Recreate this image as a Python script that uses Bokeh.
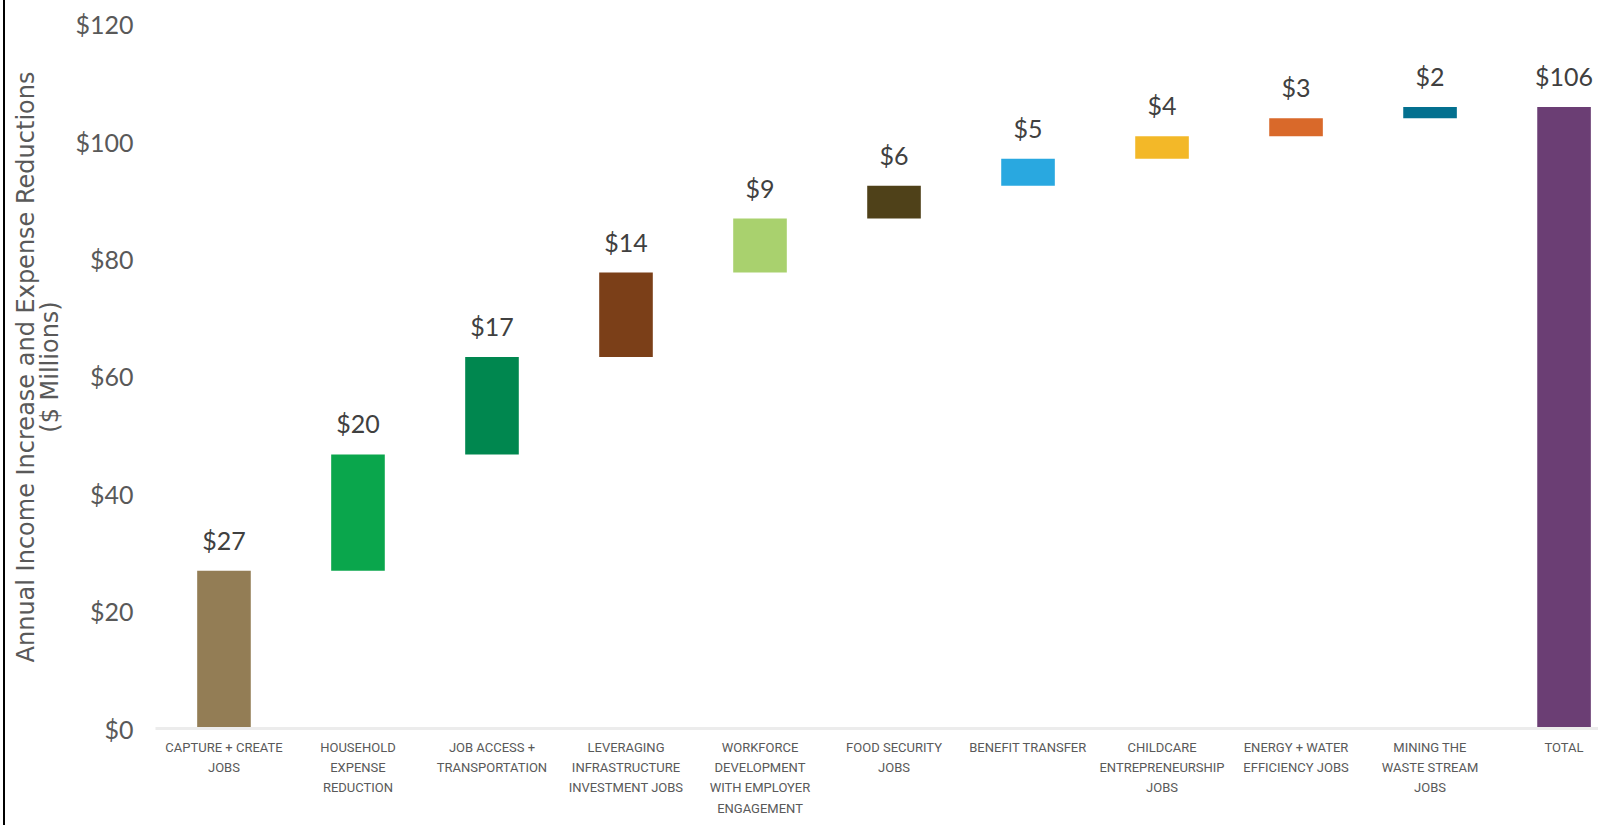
from bokeh.plotting import figure
from bokeh.models import ColumnDataSource, FixedTicker, NumeralTickFormatter, Range1d
from bokeh.core.properties import value
from bokeh.embed import file_html
from bokeh.resources import INLINE

categories = [
    "CAPTURE + CREATE\nJOBS",
    "HOUSEHOLD\nEXPENSE\nREDUCTION",
    "JOB ACCESS +\nTRANSPORTATION",
    "LEVERAGING\nINFRASTRUCTURE\nINVESTMENT JOBS",
    "WORKFORCE\nDEVELOPMENT\nWITH EMPLOYER\nENGAGEMENT",
    "FOOD SECURITY\nJOBS",
    "BENEFIT TRANSFER",
    "CHILDCARE\nENTREPRENEURSHIP\nJOBS",
    "ENERGY + WATER\nEFFICIENCY JOBS",
    "MINING THE\nWASTE STREAM\nJOBS",
    "TOTAL",
]
increments = [26.9, 19.8, 16.6, 14.4, 9.2, 5.6, 4.6, 3.8, 3.1, 1.9]
colors = ["#937d55", "#0aa64c", "#00874f", "#7b3f18", "#a9d16e", "#4f4119",
          "#29a8e0", "#f3b828", "#d9692a", "#03708f", "#6b3e74"]
y_ticks = [0, 20, 40, 60, 80, 100, 120]

# waterfall geometry from the values
bottoms, tops = [], []
run = 0.0
for v in increments:
    bottoms.append(run)
    run += v
    tops.append(run)
bottoms.append(0.0)
tops.append(run)
vals = increments + [run]
xs = list(range(len(categories)))
labels = ["$%d" % int(round(v)) for v in vals]

src = ColumnDataSource(dict(x=xs, bottom=bottoms, top=tops, color=colors, label=labels))

FONT = "Lato"
p = figure(width=1595, height=825, output_backend="svg", toolbar_location=None,
           x_range=Range1d(-0.511, 10.272), y_range=Range1d(0, 123.2),
           min_border_left=150, min_border_right=0, min_border_top=5, min_border_bottom=97)
p.styles = {"margin-left": "3px", "border-left": "2px solid #000000"}
p.outline_line_color = None
p.xgrid.visible = False
p.ygrid.visible = False

p.vbar(x="x", width=0.4, bottom="bottom", top="top", fill_color="color",
       line_color=None, source=src)
p.text(x="x", y="top", text="label", source=src, text_align="center",
       text_baseline="bottom", y_offset=-16, text_font=value(FONT),
       text_font_size="25px", text_color="#404040")

ya = p.yaxis[0]
ya.ticker = FixedTicker(ticks=y_ticks)
ya.formatter = NumeralTickFormatter(format="$0")
ya.axis_line_color = None
ya.major_tick_line_color = None
ya.minor_tick_line_color = None
ya.major_tick_out = 0
ya.major_label_text_font = FONT
ya.major_label_text_font_size = "25px"
ya.major_label_text_color = "#595959"
ya.major_label_standoff = 22
ya.axis_label = "Annual Income Increase and Expense Reductions\n($ Millions)"
ya.axis_label_text_font = "DejaVu Sans"
ya.axis_label_text_font_size = "24px"
ya.axis_label_text_font_style = "normal"
ya.axis_label_text_color = "#595959"
ya.axis_label_text_line_height = 0.88
ya.axis_label_standoff = 8

xa = p.xaxis[0]
xa.ticker = FixedTicker(ticks=xs)
xa.major_label_overrides = {i: c for i, c in zip(xs, categories)}
xa.axis_line_color = "#ececec"
xa.axis_line_width = 3
xa.major_tick_line_color = None
xa.minor_tick_line_color = None
xa.major_tick_out = 0
xa.major_label_text_font = "Roboto"
xa.major_label_text_font_size = "13px"
xa.major_label_text_color = "#595959"
xa.major_label_standoff = 11
xa.major_label_text_line_height = 1.36

open("out.html", "w").write(file_html(p, INLINE))
